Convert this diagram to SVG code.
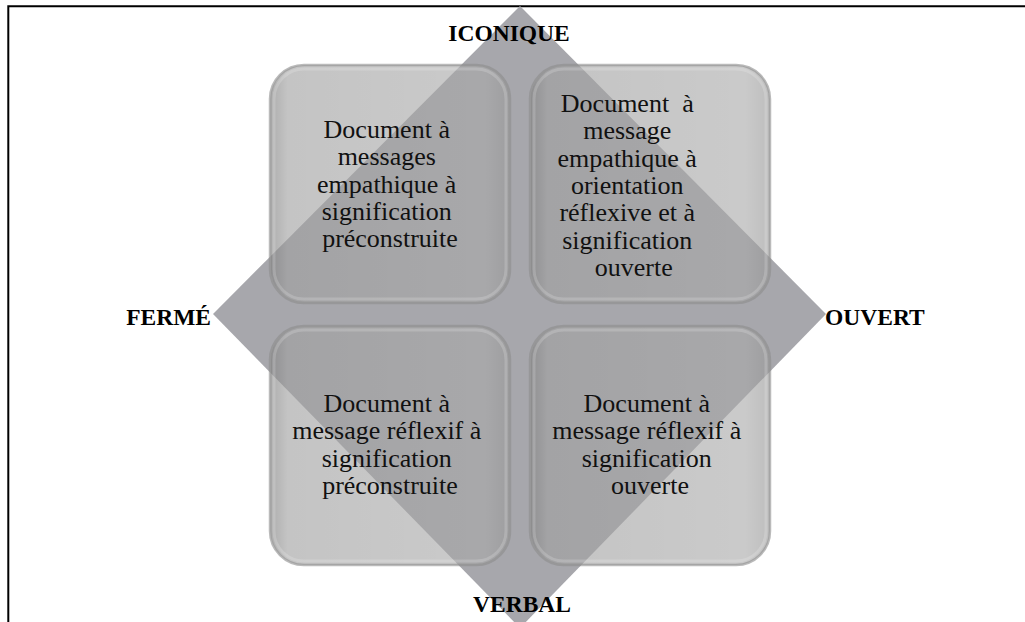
<svg xmlns="http://www.w3.org/2000/svg" width="1025" height="622" viewBox="0 0 1025 622">
  <style>
    .sq { fill: #a9a9a9; fill-opacity: 0.62; stroke: #8c8c8c; stroke-opacity: 0.6; stroke-width: 2.5; }
    .shade { fill: url(#edge); }
    .rim { fill: none; stroke: #ffffff; stroke-opacity: 0.18; stroke-width: 3; }
    .txt { font-family: "Liberation Serif", "Times New Roman", serif; font-size: 26px; fill: #111111; text-anchor: middle; }
    .lbl { font-family: "Liberation Serif", "Times New Roman", serif; font-size: 23.5px; font-weight: bold; fill: #000000; }
  </style>
  <defs>
    <linearGradient id="edge" x1="0" y1="0" x2="1" y2="0">
      <stop offset="0" stop-color="#000000" stop-opacity="0.14"/>
      <stop offset="0.07" stop-color="#000000" stop-opacity="0.03"/>
      <stop offset="0.9" stop-color="#000000" stop-opacity="0"/>
      <stop offset="1" stop-color="#000000" stop-opacity="0.06"/>
    </linearGradient>
  </defs>
  <rect x="0" y="0" width="1025" height="622" fill="#ffffff"/>
  <path d="M8.3,623 V6.3 H1026" fill="none" stroke="#000000" stroke-width="2"/>

  <g id="diamond">
    <polygon points="520,6 826,314 520,628 213,314" fill="#a7a7ac"/>
  </g>

  <g id="node-tl">
    <rect class="sq" x="270" y="65" width="240" height="238" rx="34"/>
    <rect class="shade" x="271" y="66" width="238" height="236" rx="33"/>
    <rect class="rim" x="274" y="69" width="232" height="230" rx="30"/>
    <text class="txt">
      <tspan x="390" y="138">Document à</tspan>
      <tspan x="390" y="165.3">messages</tspan>
      <tspan x="390" y="192.6">empathique à</tspan>
      <tspan x="390" y="219.9">signification</tspan>
      <tspan x="390" y="247.2">préconstruite</tspan>
    </text>
  </g>

  <g id="node-tr">
    <rect class="sq" x="530" y="65" width="240" height="238" rx="34"/>
    <rect class="shade" x="531" y="66" width="238" height="236" rx="33"/>
    <rect class="rim" x="534" y="69" width="232" height="230" rx="30"/>
    <text class="txt" xml:space="preserve">
      <tspan x="650" y="112">Document  à</tspan>
      <tspan x="650" y="139.3">message</tspan>
      <tspan x="650" y="166.6">empathique à</tspan>
      <tspan x="650" y="193.9">orientation</tspan>
      <tspan x="650" y="221.2">réflexive et à</tspan>
      <tspan x="650" y="248.5">signification</tspan>
      <tspan x="650" y="275.8">ouverte</tspan>
    </text>
  </g>

  <g id="node-bl">
    <rect class="sq" x="270" y="326" width="240" height="239" rx="34"/>
    <rect class="shade" x="271" y="327" width="238" height="237" rx="33"/>
    <rect class="rim" x="274" y="330" width="232" height="231" rx="30"/>
    <text class="txt">
      <tspan x="390" y="412">Document à</tspan>
      <tspan x="390" y="439.3">message réflexif à</tspan>
      <tspan x="390" y="466.6">signification</tspan>
      <tspan x="390" y="493.9">préconstruite</tspan>
    </text>
  </g>

  <g id="node-br">
    <rect class="sq" x="530" y="326" width="240" height="239" rx="34"/>
    <rect class="shade" x="531" y="327" width="238" height="237" rx="33"/>
    <rect class="rim" x="534" y="330" width="232" height="231" rx="30"/>
    <text class="txt">
      <tspan x="650" y="412">Document à</tspan>
      <tspan x="650" y="439.3">message réflexif à</tspan>
      <tspan x="650" y="466.6">signification</tspan>
      <tspan x="650" y="493.9">ouverte</tspan>
    </text>
  </g>

  <g id="axis-labels">
    <text class="lbl" x="509" y="41" text-anchor="middle">ICONIQUE</text>
    <text class="lbl" x="211" y="325" text-anchor="end">FERMÉ</text>
    <text class="lbl" x="825" y="325" text-anchor="start">OUVERT</text>
    <text class="lbl" x="522" y="612" text-anchor="middle">VERBAL</text>
  </g>

  <g id="connectors"/>
</svg>
